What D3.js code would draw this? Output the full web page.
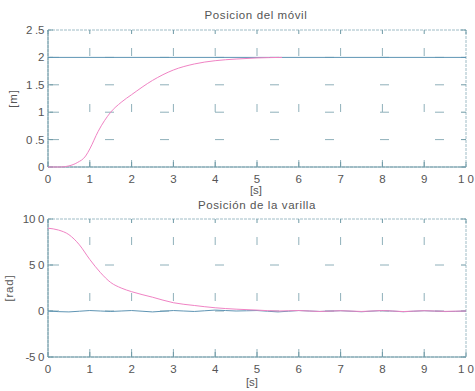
<!DOCTYPE html>
<html>
<head>
<meta charset="utf-8">
<script src="https://cdn.jsdelivr.net/npm/d3@7"></script>
<style>
  body { margin: 0; background: #fff; }
  svg { display: block; font-family: "Liberation Sans", Arial, sans-serif; }
</style>
</head>
<body>
<svg id="chart" width="475" height="391"></svg>
<script>
// time samples (s)
const tMovil = [0, 0.3, 0.5, 0.7, 0.9, 1.0, 1.2, 1.5, 1.75, 2, 2.5, 3, 3.5, 4, 4.5, 5, 5.6];
// posicion del movil (m)
const xMovil = [0, 0, 0.02, 0.08, 0.2, 0.33, 0.65, 1.0, 1.18, 1.32, 1.58, 1.77, 1.88, 1.94, 1.97, 1.99, 2.0];
// referencia (m)
const tRef = [0, 10];
const xRef = [2, 2];

const tVarilla = [0, 0.25, 0.5, 0.75, 1, 1.25, 1.5, 1.75, 2, 2.5, 3, 3.5, 4, 4.5, 5, 5.5, 6, 6.5, 7, 7.5, 8, 8.5, 9, 9.5, 10];
const angVarilla = [90, 88, 83, 72, 56, 42, 31, 25, 21, 15, 9, 6, 3.5, 2, 1, 0, 0.5, -0.5, 0.3, -0.5, 0.5, -0.6, 0.3, -0.4, 0];
const tCtrl = [0, 0.5, 1, 1.5, 2, 2.5, 3, 3.5, 4, 4.5, 5, 5.5, 6, 6.5, 7, 7.5, 8, 8.5, 9, 9.5, 10];
const angCtrl = [0, -1, 0.5, -0.5, 0.5, -1, 0.5, -0.5, 1, 0, 0.5, -1, 0.5, -0.5, 0.3, -0.8, 0.5, -0.8, 0.3, -0.6, 0];

const xTicks = d3.range(0, 11);
const xTickLabels = ["0", "1", "2", "3", "4", "5", "6", "7", "8", "9", "1 0"];
const yTicksTop = [0, 0.5, 1, 1.5, 2, 2.5];
const yTickLabelsTop = ["0", "0 .5", "1", "1 .5", "2", "2 .5"];
const yTicksBot = [-50, 0, 50, 100];
const yTickLabelsBot = ["-5 0", "0", "5 0", "10 0"];

const svg = d3.select("#chart");
const axisColor = "#6f9aa6";
const gridColor = "#8fb0ba";
const textColor = "#555";
const pink = "#f083c4";
const blue = "#5f95b4";

function panel(opts) {
  const x = d3.scaleLinear().domain([0, 10]).range([48, 466]);
  const y = d3.scaleLinear().domain(opts.yDomain).range([opts.bottom, opts.top]);
  const g = svg.append("g");

  // dotted grid (scanned look: sparse dashes)
  g.append("g").selectAll("line")
    .data(xTicks.slice(1, -1))
    .join("line")
      .attr("x1", d => x(d)).attr("x2", d => x(d))
      .attr("y1", opts.top).attr("y2", opts.bottom)
      .attr("stroke", gridColor)
      .attr("stroke-dasharray", "8,48")
      .attr("stroke-dashoffset", -18);
  g.append("g").selectAll("line")
    .data(opts.yTicks.slice(1, -1))
    .join("line")
      .attr("x1", 48).attr("x2", 466)
      .attr("y1", d => y(d)).attr("y2", d => y(d))
      .attr("stroke", gridColor)
      .attr("stroke-dasharray", "9,46")
      .attr("stroke-dashoffset", -2);

  // box
  g.append("rect")
    .attr("x", 48).attr("y", opts.top)
    .attr("width", 418).attr("height", opts.bottom - opts.top)
    .attr("fill", "none")
    .attr("stroke", "#9fbcc6")
    .attr("stroke-dasharray", "3,1");
  g.append("path")
    .attr("d", `M48,${opts.top}V${opts.bottom}H466`)
    .attr("fill", "none").attr("stroke", axisColor);

  // inward ticks
  g.append("g").selectAll("path")
    .data(xTicks)
    .join("path")
      .attr("d", d => `M${x(d)},${opts.bottom}v-5M${x(d)},${opts.top}v4`)
      .attr("stroke", axisColor);
  g.append("g").selectAll("path")
    .data(opts.yTicks)
    .join("path")
      .attr("d", d => `M48,${y(d)}h5M466,${y(d)}h-5`)
      .attr("stroke", axisColor);

  // tick labels
  g.append("g").selectAll("text")
    .data(xTicks)
    .join("text")
      .attr("x", d => x(d)).attr("y", opts.bottom + 16)
      .attr("text-anchor", "middle")
      .attr("font-size", 11.5).attr("fill", textColor)
      .text((d, i) => xTickLabels[i]);
  g.append("g").selectAll("text")
    .data(opts.yTicks)
    .join("text")
      .attr("x", 44).attr("y", d => y(d) + 4)
      .attr("text-anchor", "end")
      .attr("font-size", 11.5).attr("fill", textColor)
      .attr("letter-spacing", -0.3)
      .text((d, i) => opts.yTickLabels[i]);

  // titles
  g.append("text")
    .attr("x", opts.titleX).attr("y", opts.titleY)
    .attr("text-anchor", "middle")
    .attr("font-size", 11.5).attr("fill", textColor)
    .attr("letter-spacing", 0.6)
    .text(opts.title);
  g.append("text")
    .attr("x", opts.xlabX).attr("y", opts.xlabY)
    .attr("text-anchor", "middle")
    .attr("font-size", 11.5).attr("fill", textColor)
    .text("[s]");
  g.append("text")
    .attr("transform", `translate(${opts.ylabX},${(opts.top + opts.bottom) / 2}) rotate(-90)`)
    .attr("text-anchor", "middle")
    .attr("font-size", 11.5).attr("fill", textColor)
    .attr("letter-spacing", 0.8)
    .text(opts.ylab);

  const line = d3.line().curve(d3.curveMonotoneX);
  opts.series.forEach(s => {
    g.append("path")
      .attr("d", line(s.t.map((t, i) => [x(t), y(s.v[i])])))
      .attr("fill", "none")
      .attr("stroke", s.color)
      .attr("stroke-width", 1);
  });
}

panel({
  top: 30, bottom: 167, yDomain: [0, 2.5],
  yTicks: yTicksTop, yTickLabels: yTickLabelsTop,
  title: "Posicion del móvil", titleX: 256, titleY: 19,
  xlabX: 256, xlabY: 194, ylabX: 17, ylab: "[m]",
  series: [
    { t: tRef, v: xRef, color: blue },
    { t: tMovil, v: xMovil, color: pink }
  ]
});

panel({
  top: 219, bottom: 357, yDomain: [-50, 100],
  yTicks: yTicksBot, yTickLabels: yTickLabelsBot,
  title: "Posición de la varilla", titleX: 257, titleY: 209,
  xlabX: 252, xlabY: 386, ylabX: 13, ylab: "[rad]",
  series: [
    { t: tCtrl, v: angCtrl, color: blue },
    { t: tVarilla, v: angVarilla, color: pink }
  ]
});
</script>
</body>
</html>
